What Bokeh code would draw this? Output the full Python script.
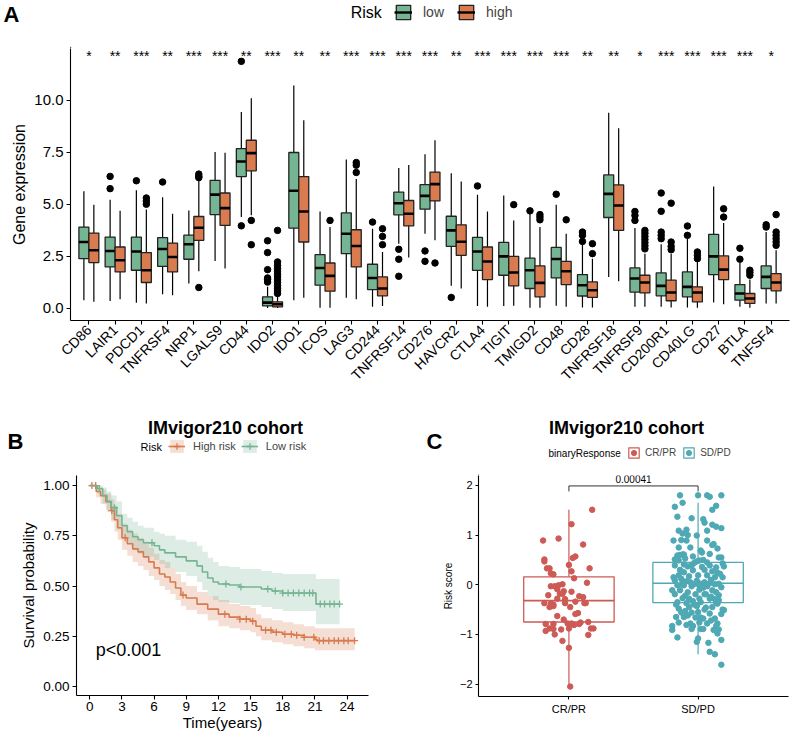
import math
import numpy as np
from bokeh.plotting import figure
from bokeh.models import (ColumnDataSource, FactorRange, Range1d, Legend, LegendItem,
                          Label, FixedTicker, NumeralTickFormatter)
from bokeh.transform import dodge
from bokeh.layouts import column, row
from bokeh.embed import file_html
from bokeh.resources import INLINE
from bokeh.core.properties import value

FONT = "Liberation Sans"
GREEN = "#76B593"
ORANGE = "#D97A4F"
RED = "#CD5A55"
TEAL = "#4EA9B4"

# ---------------- Panel A data ----------------
genes = ["CD86", "LAIR1", "PDCD1", "TNFRSF4", "NRP1", "LGALS9", "CD44", "IDO2", "IDO1", "ICOS",
         "LAG3", "CD244", "TNFRSF14", "CD276", "HAVCR2", "CTLA4", "TIGIT", "TMIGD2", "CD48", "CD28",
         "TNFRSF18", "TNFRSF9", "CD200R1", "CD40LG", "CD27", "BTLA", "TNFSF4"]
stars = ["*", "**", "***", "**", "***", "***", "**", "***", "**", "**",
         "***", "***", "***", "***", "**", "***", "***", "***", "***", "**",
         "**", "*", "***", "***", "***", "***", "*"]

low_lower = [0.38, 0.34, 0.26, 0.67, 1.18, 2.27, 4.38, 0.00, 0.38, 0.02, 0.50, 0.06, 3.10, 3.58,
             1.07, 0.10, 0.10, 0.02, 0.11, 0.03, 1.50, 0.06, 0.06, 0.03, 0.27, 0.06, 0.22]
low_q1 = [2.38, 1.98, 1.82, 2.01, 2.35, 4.50, 6.33, 0.10, 3.85, 1.10, 2.62, 0.89, 4.49, 4.76,
          2.97, 1.81, 1.58, 0.94, 1.45, 0.58, 4.36, 0.77, 0.59, 0.54, 1.61, 0.38, 0.94]
low_med = [3.18, 2.75, 2.72, 2.84, 3.07, 5.46, 7.06, 0.26, 5.65, 1.93, 3.58, 1.45, 5.05, 5.40,
           3.74, 2.72, 2.49, 1.82, 2.36, 1.10, 5.50, 1.42, 1.07, 1.02, 2.49, 0.70, 1.50]
low_q3 = [3.90, 3.42, 3.42, 3.39, 3.51, 6.15, 7.68, 0.54, 7.49, 2.57, 4.58, 2.11, 5.58, 5.94,
          4.42, 3.40, 3.16, 2.40, 2.92, 1.61, 6.41, 1.93, 1.69, 1.74, 3.55, 1.13, 2.03]
low_upper = [5.62, 5.21, 5.67, 5.34, 4.70, 7.52, 9.44, 1.02, 10.72, 4.65, 7.16, 3.82, 6.74, 7.41,
             6.49, 5.46, 5.42, 4.54, 4.97, 3.10, 9.41, 3.85, 3.07, 3.34, 5.85, 2.17, 3.66]

high_lower = [0.30, 0.42, 0.22, 0.62, 1.77, 1.90, 4.47, 0.00, 0.50, 0.02, 0.42, 0.10, 2.43, 3.26,
              0.94, 0.06, 0.11, 0.02, 0.06, 0.03, 1.29, 0.06, 0.03, 0.02, 0.18, 0.02, 0.22]
high_q1 = [2.19, 1.74, 1.23, 1.74, 3.26, 3.98, 6.61, 0.06, 3.18, 0.81, 1.98, 0.59, 3.96, 5.16,
           2.54, 1.37, 1.07, 0.54, 1.13, 0.51, 3.74, 0.73, 0.35, 0.30, 1.37, 0.22, 0.83]
high_med = [2.78, 2.30, 1.82, 2.46, 3.87, 4.81, 7.46, 0.18, 4.65, 1.55, 2.99, 0.94, 4.54, 5.97,
            3.19, 2.24, 1.71, 1.21, 1.77, 0.86, 4.94, 1.23, 0.75, 0.75, 1.85, 0.46, 1.23]
high_q3 = [3.61, 2.94, 2.67, 3.13, 4.41, 5.54, 8.08, 0.30, 6.33, 2.17, 3.77, 1.50, 5.18, 6.55,
           4.01, 2.94, 2.49, 2.03, 2.25, 1.26, 5.93, 1.58, 1.34, 1.02, 2.51, 0.70, 1.66]
high_upper = [4.98, 4.68, 4.74, 4.54, 6.13, 7.48, 10.10, 0.54, 9.04, 3.90, 6.21, 2.70, 6.89, 8.08,
              6.10, 4.65, 4.22, 3.90, 3.58, 2.38, 8.66, 2.62, 2.62, 2.22, 4.09, 1.37, 2.78]

low_out_gene = ["LAIR1", "LAIR1", "PDCD1", "TNFRSF4", "CD44", "CD44",
                "IDO2", "IDO2", "IDO2", "IDO2", "IDO2", "IDO2", "CD244",
                "TNFRSF14", "TNFRSF14", "TNFRSF14", "CD276", "CD276", "HAVCR2", "CTLA4",
                "TMIGD2", "CD48", "CD28", "CD28", "CD28", "TNFRSF9", "TNFRSF9", "TNFRSF9",
                "CD200R1", "CD200R1", "CD200R1", "CD200R1", "CD200R1", "CD40LG", "CD40LG",
                "BTLA", "BTLA", "TNFSF4", "TNFSF4"]
low_out_val = [6.34, 5.75, 6.13, 6.07, 11.88, 3.96,
               3.24, 2.67, 1.85, 1.45, 1.37, 1.25, 4.14,
               2.83, 2.35, 1.53, 2.75, 2.25, 0.51, 5.88,
               4.68, 5.48, 3.66, 3.50, 3.21, 4.65, 4.46, 4.22,
               5.54, 4.66, 3.66, 3.50, 3.34, 3.95, 3.50,
               2.88, 2.35, 4.01, 3.90]

high_out_gene = ["PDCD1", "PDCD1", "PDCD1", "NRP1", "NRP1", "NRP1", "NRP1", "CD44", "CD44",
                 "IDO2", "IDO2", "IDO2", "IDO2", "IDO2", "IDO2", "IDO2", "IDO2", "IDO2", "IDO2",
                 "IDO2", "IDO2", "IDO2", "ICOS", "LAG3", "LAG3", "LAG3", "CD244", "CD244", "CD244",
                 "CD276", "TIGIT", "TMIGD2", "TMIGD2", "TMIGD2", "CD48", "CD28", "CD28",
                 "TNFRSF9", "TNFRSF9", "TNFRSF9", "TNFRSF9", "TNFRSF9", "TNFRSF9", "TNFRSF9",
                 "CD200R1", "CD200R1", "CD200R1", "CD200R1", "CD40LG", "CD40LG", "CD40LG",
                 "CD27", "CD27", "BTLA", "BTLA", "BTLA",
                 "TNFSF4", "TNFSF4", "TNFSF4", "TNFSF4", "TNFSF4", "TNFSF4"]
high_out_val = [5.30, 5.15, 5.00, 6.45, 6.35, 6.28, 0.99, 4.22, 3.05,
                3.74, 2.22, 2.05, 1.90, 1.78, 1.62, 1.50, 1.36, 1.22, 1.08,
                0.95, 0.82, 0.70, 4.22, 7.01, 6.88, 6.53, 3.82, 3.45, 3.05,
                2.17, 4.98, 4.50, 4.38, 4.25, 4.25, 3.10, 2.62,
                3.74, 3.60, 3.45, 3.30, 3.15, 3.00, 2.85,
                5.05, 3.18, 2.97, 2.81, 2.70, 2.54, 2.38,
                4.78, 4.38, 1.82, 1.71, 1.58,
                4.50, 3.66, 3.50, 3.34, 3.18, 3.02]

# ---------------- Panel B data (Kaplan-Meier) ----------------
high_t = [0, 0.6, 1.0, 1.5, 2.0, 2.3, 2.6, 3.0, 3.5, 4.0, 4.5, 5.0, 5.5, 6.0, 6.5, 7.0, 7.5,
          8.0, 8.5, 9.0, 10.0, 11.0, 12.0, 13.0, 14.0, 15.0, 15.5, 16.0, 17.0, 18.0, 19.0,
          20.0, 21.0, 21.2, 24.7]
high_s = [1.0, 0.97, 0.95, 0.92, 0.875, 0.83, 0.79, 0.74, 0.71, 0.685, 0.67, 0.645, 0.62,
          0.59, 0.56, 0.545, 0.52, 0.49, 0.455, 0.44, 0.41, 0.385, 0.36, 0.345, 0.335, 0.325,
          0.30, 0.28, 0.27, 0.26, 0.255, 0.245, 0.235, 0.228, 0.228]
high_hi = [1.0, 0.99, 0.98, 0.96, 0.93, 0.90, 0.86, 0.81, 0.78, 0.76, 0.74, 0.72, 0.69, 0.66,
           0.63, 0.62, 0.59, 0.56, 0.52, 0.50, 0.47, 0.45, 0.43, 0.41, 0.40, 0.39, 0.36, 0.34,
           0.33, 0.32, 0.31, 0.30, 0.29, 0.29, 0.29]
high_lo = [1.0, 0.94, 0.91, 0.88, 0.82, 0.77, 0.73, 0.68, 0.65, 0.62, 0.60, 0.58, 0.55, 0.53,
           0.50, 0.48, 0.46, 0.43, 0.40, 0.38, 0.36, 0.33, 0.30, 0.29, 0.28, 0.27, 0.25, 0.23,
           0.22, 0.21, 0.20, 0.19, 0.18, 0.18, 0.18]
high_cens = [0.2, 0.55, 2.05, 3.3, 8.7, 12.6, 14.0, 14.6, 15.2, 16.4, 16.9, 17.4, 18.2, 18.8,
             19.3, 20.0, 20.9, 21.4, 21.8, 22.3, 22.8, 23.2, 23.7, 24.1, 24.7]

low_t = [0, 0.7, 1.2, 1.6, 2.0, 2.5, 3.0, 3.5, 4.0, 4.5, 5.0, 6.0, 6.5, 7.0, 8.0, 9.0, 10.0,
         10.5, 11.0, 11.5, 12.0, 13.0, 14.0, 16.0, 17.0, 18.0, 21.0, 21.1, 23.3]
low_s = [1.0, 0.985, 0.95, 0.92, 0.89, 0.85, 0.80, 0.77, 0.745, 0.73, 0.715, 0.70, 0.68,
         0.665, 0.645, 0.625, 0.60, 0.57, 0.54, 0.52, 0.51, 0.505, 0.495, 0.485, 0.475, 0.465,
         0.465, 0.41, 0.41]
low_hi = [1.0, 1.0, 0.99, 0.97, 0.95, 0.92, 0.86, 0.84, 0.82, 0.80, 0.79, 0.77, 0.76, 0.75,
          0.73, 0.72, 0.70, 0.67, 0.64, 0.62, 0.60, 0.595, 0.585, 0.575, 0.565, 0.56, 0.56,
          0.535, 0.535]
low_lo = [1.0, 0.96, 0.91, 0.87, 0.83, 0.78, 0.74, 0.71, 0.68, 0.66, 0.645, 0.63, 0.61, 0.59,
          0.57, 0.55, 0.52, 0.48, 0.45, 0.43, 0.42, 0.415, 0.405, 0.395, 0.385, 0.375, 0.375,
          0.31, 0.31]
low_cens = [0.9, 2.3, 5.8, 12.7, 14.1, 16.6, 17.3, 18.0, 18.5, 19.0, 19.5, 20.0, 20.5, 20.8,
            21.5, 21.9, 22.4, 22.8, 23.3]

# ---------------- Panel C data ----------------
resp_groups = ["CR/PR", "SD/PD"]
resp_lower = [-2.05, -1.40]
resp_q1 = [-0.75, -0.36]
resp_med = [-0.32, 0.03]
resp_q3 = [0.16, 0.45]
resp_upper = [1.51, 1.65]
p_label = "0.00041"

cr_points = [(0.18, 1.51), (0.02, 1.22), (-0.20, 0.89), (-0.08, 0.93), (0.11, 0.81), (-0.19, 0.51),
             (-0.19, 0.47), (0.05, 0.57), (0.03, 0.54), (0.0, 0.40), (-0.17, 0.33), (-0.15, 0.33),
             (0.16, 0.33), (-0.14, 0.23), (-0.12, 0.21), (0.02, 0.27), (0.04, 0.13), (0.14, 0.04),
             (-0.14, -0.03), (-0.11, -0.03), (-0.08, -0.01), (-0.05, 0.01), (-0.09, -0.09),
             (-0.04, -0.13), (-0.16, -0.21), (-0.07, -0.18), (-0.05, -0.18), (0.02, -0.14),
             (0.08, -0.23), (0.11, -0.25), (-0.09, -0.28), (-0.03, -0.29), (-0.19, -0.37),
             (-0.14, -0.38), (-0.12, -0.40), (-0.03, -0.37), (0.05, -0.34), (0.12, -0.37),
             (0.13, -0.37), (-0.15, -0.45), (-0.12, -0.43), (0.01, -0.45), (0.07, -0.57),
             (0.05, -0.59), (-0.09, -0.63), (-0.04, -0.70), (-0.18, -0.79), (-0.12, -0.79),
             (-0.01, -0.78), (0.02, -0.78), (0.04, -0.81), (0.08, -0.79), (0.09, -0.76),
             (0.15, -0.75), (-0.15, -0.88), (-0.12, -0.89), (-0.06, -0.90), (-0.18, -0.93),
             (0.0, -0.88), (0.17, -0.88), (0.19, -0.88), (-0.11, -1.00), (0.15, -1.01),
             (-0.05, -1.13), (0.0, -1.27), (0.01, -2.05)]

sd_points = [(-0.14, 1.80), (0.0, 1.80), (0.07, 1.80), (0.09, 1.77), (0.18, 1.80), (-0.12, 1.65),
             (-0.18, 1.57), (0.14, 1.59), (0.11, 1.51), (-0.16, 1.37), (-0.05, 1.34), (0.04, 1.32),
             (0.05, 1.25), (0.11, 1.21), (0.14, 1.17), (0.18, 1.14), (-0.15, 1.09), (-0.09, 1.11),
             (-0.12, 1.03), (0.07, 1.09), (-0.01, 0.99), (-0.08, 1.00), (-0.19, 0.89), (-0.13, 0.90),
             (-0.09, 0.89), (0.07, 0.89), (0.12, 0.82), (0.11, 0.80), (0.15, 0.73), (-0.15, 0.75),
             (-0.06, 0.75), (0.02, 0.69), (0.03, 0.65), (0.09, 0.62), (-0.16, 0.59), (-0.14, 0.60),
             (-0.12, 0.61), (-0.11, 0.61), (-0.04, 0.57), (0.16, 0.55), (0.18, 0.55), (-0.18, 0.51),
             (-0.15, 0.49), (-0.01, 0.47), (0.01, 0.49), (0.04, 0.50), (0.07, 0.45), (0.19, 0.43),
             (-0.18, 0.39), (-0.11, 0.41), (-0.08, 0.37), (-0.05, 0.39), (0.09, 0.39), (0.14, 0.35),
             (0.20, 0.37), (-0.14, 0.30), (-0.11, 0.25), (-0.04, 0.29), (0.05, 0.30), (0.11, 0.27),
             (0.15, 0.24), (-0.19, 0.15), (-0.15, 0.19), (-0.07, 0.17), (0.0, 0.19), (0.07, 0.19),
             (0.13, 0.15), (0.19, 0.15), (-0.18, 0.09), (-0.12, 0.07), (-0.09, 0.07), (-0.06, 0.05),
             (-0.02, 0.02), (0.02, 0.02), (0.05, 0.05), (0.09, 0.03), (0.13, 0.01), (0.16, 0.02),
             (-0.16, -0.01), (-0.11, -0.01), (-0.05, -0.03), (0.01, -0.01), (0.07, -0.03),
             (0.18, -0.05), (-0.20, -0.11), (-0.14, -0.11), (-0.08, -0.15), (0.01, -0.10),
             (0.11, -0.11), (0.14, -0.15), (-0.18, -0.19), (-0.02, -0.19), (0.05, -0.19),
             (0.06, -0.19), (0.16, -0.21), (-0.12, -0.27), (-0.07, -0.28), (0.01, -0.28),
             (0.09, -0.28), (0.13, -0.29), (0.16, -0.31), (-0.16, -0.35), (-0.09, -0.37),
             (-0.04, -0.33), (0.02, -0.35), (0.14, -0.35), (0.15, -0.38), (-0.07, -0.45),
             (-0.01, -0.43), (0.06, -0.46), (0.11, -0.45), (-0.15, -0.48), (0.19, -0.50),
             (0.20, -0.51), (-0.13, -0.56), (-0.10, -0.53), (-0.05, -0.56), (0.0, -0.55),
             (0.09, -0.58), (0.18, -0.59), (-0.17, -0.65), (-0.11, -0.65), (-0.02, -0.66),
             (0.02, -0.66), (0.04, -0.68), (0.13, -0.68), (-0.15, -0.76), (-0.06, -0.78),
             (0.01, -0.76), (0.07, -0.78), (0.15, -0.78), (-0.20, -0.83), (-0.09, -0.81),
             (-0.04, -0.83), (0.14, -0.83), (-0.20, -0.91), (-0.05, -0.89), (0.02, -0.89),
             (0.04, -0.89), (0.12, -0.91), (0.16, -0.90), (0.15, -0.98), (-0.16, -1.06),
             (0.0, -1.08), (0.18, -1.11), (-0.01, -1.15), (0.08, -1.17), (0.09, -1.35),
             (0.13, -1.40), (0.18, -1.61),
             (-0.10, 0.53), (-0.03, 0.44), (0.03, 0.36), (-0.13, 0.12), (0.10, 0.10), (-0.01, 0.08),
             (0.04, -0.06), (-0.10, -0.22), (0.10, -0.24), (-0.03, -0.40), (0.05, -0.50),
             (-0.08, -0.62), (0.10, -0.72), (-0.12, 0.00), (0.17, 0.22), (-0.17, -0.40)]


def style(p, tick_size, label_size, tick_out=4):
    for ax in list(p.xaxis) + list(p.yaxis):
        ax.axis_line_color = "black"
        ax.axis_line_width = 1.1
        ax.major_tick_line_color = "black"
        ax.major_tick_line_width = 1.1
        ax.major_tick_in = 0
        ax.major_tick_out = tick_out
        ax.minor_tick_line_color = None
        ax.major_label_text_font = FONT
        ax.major_label_text_font_size = tick_size
        ax.major_label_text_color = "black"
        ax.axis_label_text_font = FONT
        ax.axis_label_text_font_size = label_size
        ax.axis_label_text_font_style = "normal"
        ax.axis_label_text_color = "black"
        ax.major_label_standoff = 3
        ax.axis_label_standoff = 3
    p.xgrid.visible = False
    p.ygrid.visible = False
    p.outline_line_color = None
    p.background_fill_color = "white"
    p.border_fill_color = "white"


def header(w, h, x0, x1, letter, letter_y, letter_standoff):
    # strip above a panel; its frame lines up with the panel frame below (x in page pixels,
    # y in pixels up from the strip's bottom). The panel letter is drawn as a y tick label.
    p = figure(width=w, height=h, x_range=Range1d(x0, x1), y_range=Range1d(0, h),
               output_backend="svg", toolbar_location=None, tools="",
               x_axis_location=None, y_axis_location="left", min_border=0)
    p.grid.visible = False
    ax = p.yaxis[0]
    ax.ticker = FixedTicker(ticks=[letter_y])
    ax.major_label_overrides = {letter_y: letter}
    ax.axis_line_color = None
    ax.major_tick_line_color = None
    ax.minor_tick_line_color = None
    ax.major_tick_in = 0
    ax.major_tick_out = 0
    ax.major_label_standoff = letter_standoff
    ax.major_label_text_font = FONT
    ax.major_label_text_font_size = "22px"
    ax.major_label_text_font_style = "bold"
    ax.major_label_text_color = "black"
    p.outline_line_color = None
    p.background_fill_color = "white"
    p.border_fill_color = "white"
    return p


def text_label(x, y, txt, size, bold=False, align="left", baseline="middle", dy=0):
    return Label(x=x, y=y, y_offset=dy, text=txt, text_font=FONT, text_font_size=size,
                 text_font_style="bold" if bold else "normal",
                 text_align=align, text_baseline=baseline, text_color="black")


def legend(items, loc, gw, gh, fs, standoff, spacing):
    return Legend(items=items, location=loc, orientation="horizontal", padding=0, margin=0,
                  border_line_color=None, background_fill_alpha=0, glyph_width=gw,
                  glyph_height=gh, label_standoff=standoff, spacing=spacing,
                  label_text_font=FONT, label_text_font_size=fs, label_height=gh)


OFF = -10000  # legend-key proxies are kept far outside the visible strip

# ================= Panel A =================
hA = header(791, 48, 68, 789, "A", 34, 51)
hA_items = []
for lab, col in (("low", GREEN), ("high", ORANGE)):
    kb = hA.vbar(x=[OFF], top=[1], bottom=[0], width=1, fill_color=col, line_color="#222222", line_width=1.3)
    km_ = hA.segment(x0=[OFF], x1=[OFF], y0=[0], y1=[0], line_color="black", line_width=2.4)
    hA_items.append(LegendItem(label=lab, renderers=[kb, km_]))
hA.add_layout(legend(hA_items, (324, 27), 18, 18, "14px", 11, 13))
hA.add_layout(text_label(349, 36, "Risk", "16px"))

pA = figure(width=791, height=352, output_backend="svg", toolbar_location=None, tools="",
            x_range=FactorRange(factors=genes, range_padding=0.2, range_padding_units="absolute"),
            y_range=Range1d(-0.6, 12.5),
            min_border_left=68, min_border_right=2, min_border_top=0, min_border_bottom=80)
style(pA, "15px", "16px")
pA.xaxis.major_label_text_font_size = "14px"
pA.xaxis.major_label_orientation = math.pi / 4
pA.yaxis.ticker = FixedTicker(ticks=[0, 2.5, 5, 7.5, 10])
pA.yaxis.formatter = NumeralTickFormatter(format="0.0")
pA.yaxis.axis_label = "Gene expression"

srcL = ColumnDataSource(dict(gene=genes, lower=low_lower, q1=low_q1, med=low_med, q3=low_q3, upper=low_upper))
srcH = ColumnDataSource(dict(gene=genes, lower=high_lower, q1=high_q1, med=high_med, q3=high_q3, upper=high_upper))
half = 0.19
for src, off, col in ((srcL, -half, GREEN), (srcH, half, ORANGE)):
    xc = dodge("gene", off, range=pA.x_range)
    pA.segment(x0=xc, x1=xc, y0="lower", y1="upper", source=src, line_color="black", line_width=1.2)
    pA.vbar(x=xc, width=2 * half, bottom="q1", top="q3", source=src, fill_color=col,
            line_color="#222222", line_width=1.3)
    pA.segment(x0=dodge("gene", off - half, range=pA.x_range),
               x1=dodge("gene", off + half, range=pA.x_range),
               y0="med", y1="med", source=src, line_color="black", line_width=2.6)

for g, v, off in ((low_out_gene, low_out_val, -half), (high_out_gene, high_out_val, half)):
    s = ColumnDataSource(dict(gene=g, val=v))
    pA.scatter(x=dodge("gene", off, range=pA.x_range), y="val", source=s, size=6.5,
               fill_color="black", line_color="black")

star_src = ColumnDataSource(dict(gene=genes, stars=stars, y=[12.15] * len(genes)))
pA.text(x="gene", y="y", text="stars", source=star_src, text_font=value(FONT),
        text_font_size="14px", text_align="center", text_baseline="middle", text_color="black")

# ================= Panel B =================
hB = header(395, 75, 76, 368, "B", 34, 53)
hB_items = []
for lab, col in (("High risk", ORANGE), ("Low risk", GREEN)):
    ka = hB.varea(x=[OFF, OFF + 1], y1=[0, 0], y2=[1, 1], fill_color=col, fill_alpha=0.25)
    kl = hB.line(x=[OFF, OFF + 1], y=[0, 0], line_color=col, line_width=1.6)
    kc = hB.scatter(x=[OFF], y=[0], marker="cross", size=7, line_color=col, line_width=1.3)
    hB_items.append(LegendItem(label=lab, renderers=[ka, kl, kc]))
hB.add_layout(legend(hB_items, (92, 21), 17, 16, "11px", 8, 5))
hB.add_layout(text_label(140, 29, "Risk", "11px"))
hB.add_layout(text_label(225, 48, "IMvigor210 cohort", "18px", bold=True, align="center"))

pB = figure(width=395, height=258, output_backend="svg", toolbar_location=None, tools="",
            x_range=Range1d(-1.24, 26.0), y_range=Range1d(-0.045, 1.05),
            min_border_left=76, min_border_right=27, min_border_top=0, min_border_bottom=37)
style(pB, "13.5px", "15px")
pB.xaxis.ticker = FixedTicker(ticks=list(range(0, 25, 3)))
pB.yaxis.ticker = FixedTicker(ticks=[0, 0.25, 0.5, 0.75, 1.0])
pB.yaxis.formatter = NumeralTickFormatter(format="0.00")
pB.xaxis.axis_label = "Time(years)"
pB.yaxis.axis_label = "Survival probability"
pB.xaxis.axis_label_standoff = 0
pB.xaxis.major_label_standoff = 2


def km_at(ts, ss, c):
    t = np.asarray(ts)
    s = np.asarray(ss)
    return s[np.searchsorted(t, np.asarray(c), side="right") - 1]


curves = (("High risk", high_t, high_s, high_lo, high_hi, high_cens, ORANGE),
          ("Low risk", low_t, low_s, low_lo, low_hi, low_cens, GREEN))
for key, t, s, lo, hi, cens, col in curves:
    pB.varea_step(x=t, y1=lo, y2=hi, step_mode="after", fill_color=col, fill_alpha=0.25)
for key, t, s, lo, hi, cens, col in curves:
    pB.step(x=t, y=s, mode="after", line_color=col, line_width=1.6)
    pB.scatter(x=cens, y=km_at(t, s, cens), marker="cross", size=7, line_color=col, line_width=1.3)

pB.add_layout(text_label(0.56, 0.18, "p<0.001", "18px"))

# ================= Panel C =================
hC = header(396, 75, 478, 788, "C", 34, 36)
hC_items = []
for lab, col in (("CR/PR", RED), ("SD/PD", TEAL)):
    kb = hC.vbar(x=[OFF], top=[1], bottom=[0], width=1, fill_color="white", line_color=col, line_width=1.2)
    kp = hC.scatter(x=[OFF], y=[0], size=5, fill_color=col, line_color=col)
    hC_items.append(LegendItem(label=lab, renderers=[kb, kp]))
hC.add_layout(legend(hC_items, (149, 16), 13, 13, "10px", 5, 6))
hC.add_layout(text_label(548, 22, "binaryResponse", "10px"))
hC.add_layout(text_label(626, 48, "IMvigor210 cohort", "18px", bold=True, align="center"))

pC = figure(width=396, height=258, output_backend="svg", toolbar_location=None, tools="",
            x_range=FactorRange(factors=resp_groups, range_padding=0.2, range_padding_units="absolute"),
            y_range=Range1d(-2.25, 2.2),
            min_border_left=83, min_border_right=3, min_border_top=0, min_border_bottom=37)
style(pC, "11px", "10px", tick_out=3)
pC.yaxis.ticker = FixedTicker(ticks=[-2, -1, 0, 1, 2])
pC.yaxis.major_label_overrides = {-2: "\u22122", -1: "\u22121", 0: "0", 1: "1", 2: "2"}
pC.yaxis.axis_label = "Risk score"

srcC = ColumnDataSource(dict(grp=resp_groups, lower=resp_lower, q1=resp_q1, med=resp_med,
                             q3=resp_q3, upper=resp_upper, color=[RED, TEAL]))
pC.segment(x0="grp", x1="grp", y0="lower", y1="q1", source=srcC, line_color="color", line_width=1.2)
pC.segment(x0="grp", x1="grp", y0="q3", y1="upper", source=srcC, line_color="color", line_width=1.2)
pC.vbar(x="grp", width=0.7, bottom="q1", top="q3", source=srcC, fill_color="white",
        line_color="color", line_width=1.3)
pC.segment(x0=dodge("grp", -0.35, range=pC.x_range), x1=dodge("grp", 0.35, range=pC.x_range),
           y0="med", y1="med", source=srcC, line_color="color", line_width=1.6)

for pts_list, center, col in ((cr_points, 0.5, RED), (sd_points, 1.5, TEAL)):
    dx = np.array([q[0] for q in pts_list])
    yy = np.array([q[1] for q in pts_list])
    pC.scatter(x=center + dx, y=yy, size=5.5, fill_color=col, line_color=col)

bracket_y, bracket_leg = 1.99, 1.88
br = ColumnDataSource(dict(x0=["CR/PR", "CR/PR", "SD/PD"], x1=["SD/PD", "CR/PR", "SD/PD"],
                           y0=[bracket_y, bracket_y, bracket_y], y1=[bracket_y, bracket_leg, bracket_leg]))
pC.segment(x0="x0", x1="x1", y0="y0", y1="y1", source=br, line_color="#333333", line_width=1.0)
pC.add_layout(text_label(1.0, bracket_y, p_label, "10px", align="center", baseline="bottom", dy=3))

layout = column(hA, pA, row(column(hB, pB), column(hC, pC)))
open("out.html", "w").write(file_html(layout, INLINE))
